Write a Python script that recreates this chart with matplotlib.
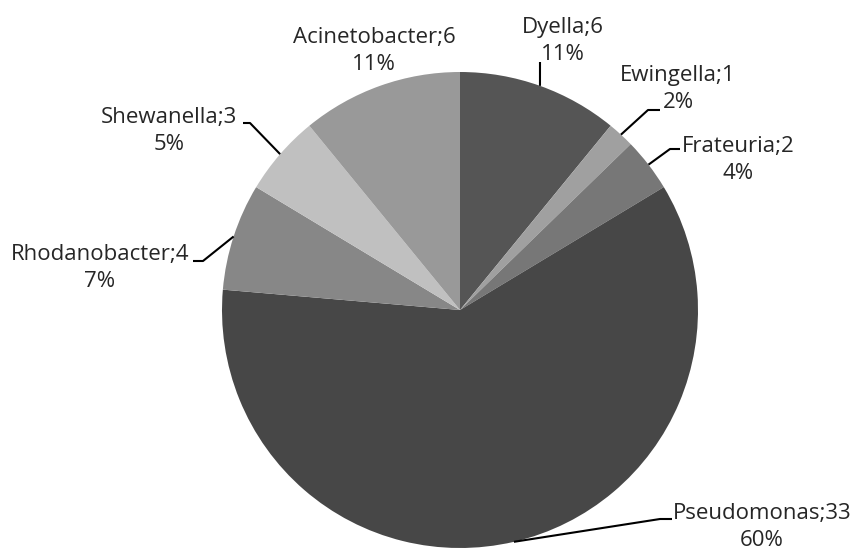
import numpy as np
import matplotlib
matplotlib.use("Agg")
import matplotlib.pyplot as plt

plt.rcParams['font.family'] = ['Open Sans', 'DejaVu Sans']

genera = ['Dyella', 'Ewingella', 'Frateuria', 'Pseudomonas',
          'Rhodanobacter', 'Shewanella', 'Acinetobacter']
counts = [6, 1, 2, 33, 4, 3, 6]
percents = ['11%', '2%', '4%', '60%', '7%', '5%', '11%']
colors = ['#555555', '#a0a0a0', '#777777', '#474747',
          '#878787', '#c0c0c0', '#999999']

# label layout in pixel coords (x, y from top): text centre, elbow, end of leader
text_pos = [(563, 41), (678, 89), (738, 160), (762, 527),
            (100, 268), (169, 131), (374, 51)]
elbows = [(540, 62), (648, 110), (670, 149), (660, 519),
          (203, 261), (250, 123), None]
leader_end = [None, (660, 110), (680, 149), (672, 519),
              (193, 261), (243, 123), None]

W, H = 855, 550
cx, cy, r = 460, 310, 238

fig = plt.figure(figsize=(W / 100, H / 100), dpi=100)
ax = fig.add_axes([0, 0, 1, 1])

wedges, _ = ax.pie(counts, colors=colors, startangle=90, counterclock=False,
                   center=(cx, H - cy), radius=r, frame=True,
                   wedgeprops=dict(linewidth=0))
ax.set_xlim(0, W)
ax.set_ylim(0, H)
ax.set_aspect('equal')
ax.axis('off')

total = sum(counts)
cum = np.cumsum([0] + counts)
for i, name in enumerate(genera):
    mid = 90 - (cum[i] + counts[i] / 2) / total * 360
    px = cx + r * np.cos(np.radians(mid))
    py = cy - r * np.sin(np.radians(mid))
    if elbows[i] is not None:
        xs = [px, elbows[i][0]]
        ys = [py, elbows[i][1]]
        if leader_end[i] is not None:
            xs.append(leader_end[i][0])
            ys.append(leader_end[i][1])
        ax.plot(xs, [H - y for y in ys], color='black', linewidth=1.5,
                solid_capstyle='butt')
    tx, ty = text_pos[i]
    ax.text(tx, H - ty, f'{name};{counts[i]}\n{percents[i]}', ha='center',
            va='center', fontsize=16, color='#262626', linespacing=1.4)

fig.savefig('out.png', dpi=100)
